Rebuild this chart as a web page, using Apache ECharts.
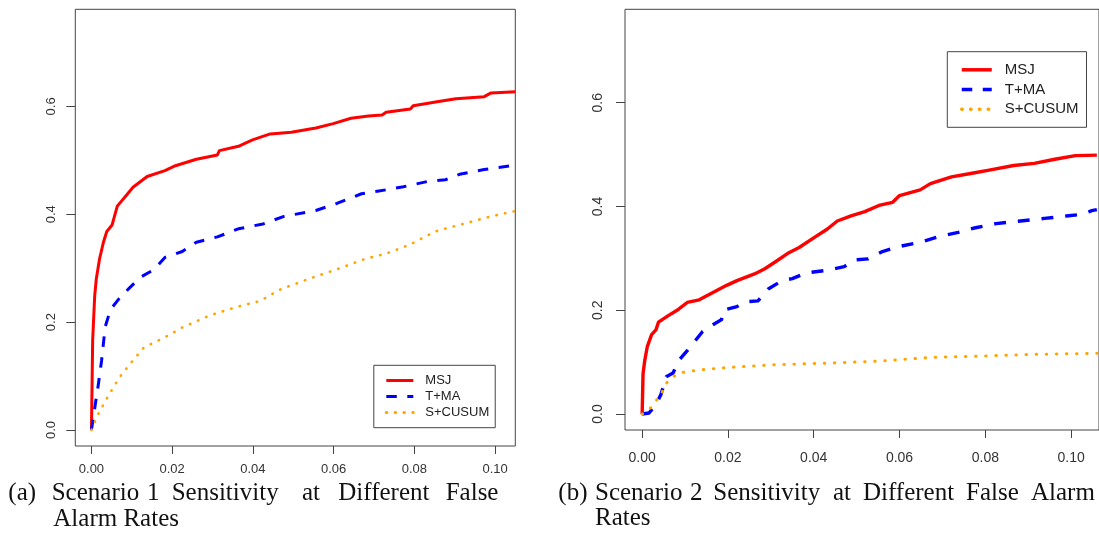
<!DOCTYPE html>
<html>
<head>
<meta charset="utf-8">
<script src="https://cdn.jsdelivr.net/npm/echarts@6/dist/echarts.min.js"></script>
<style>
html,body{margin:0;padding:0;background:#fff;}
#c{width:1099px;height:534px;}
</style>
</head>
<body>
<div id="c"></div>
<script>
// ---------- data ----------
const seriesNames = ['MSJ', 'T+MA', 'S+CUSUM'];
const xTicks = [0, 0.02, 0.04, 0.06, 0.08, 0.10];
const yTicks = [0, 0.2, 0.4, 0.6];

// Scenario 1 (panel a): [false alarm rate, sensitivity]
const msjA = [[0,0],[0.0003,0.166],[0.0008,0.248],[0.0012,0.28],[0.002,0.317],[0.003,0.349],[0.0038,0.368],[0.0051,0.38],[0.0064,0.415],[0.0082,0.431],[0.0103,0.45],[0.0138,0.47],[0.0182,0.481],[0.0208,0.49],[0.026,0.502],[0.0312,0.51],[0.0317,0.518],[0.0364,0.526],[0.0399,0.538],[0.0443,0.549],[0.0495,0.552],[0.0556,0.56],[0.0599,0.568],[0.0643,0.578],[0.0686,0.582],[0.072,0.584],[0.073,0.589],[0.079,0.595],[0.0797,0.601],[0.086,0.609],[0.0903,0.614],[0.0973,0.618],[0.099,0.625],[0.105,0.627]];
const tmaA = [[0,0],[0.0008,0.04],[0.0017,0.084],[0.0025,0.128],[0.0034,0.191],[0.0047,0.223],[0.0069,0.244],[0.0095,0.264],[0.0121,0.283],[0.0156,0.298],[0.0182,0.32],[0.0225,0.331],[0.026,0.348],[0.0312,0.358],[0.0364,0.373],[0.0425,0.382],[0.0477,0.396],[0.0556,0.407],[0.0608,0.42],[0.0669,0.438],[0.0712,0.443],[0.0773,0.451],[0.0834,0.461],[0.0877,0.464],[0.0912,0.474],[0.0973,0.483],[0.105,0.491]];
const cusumA = [[0,0],[0.0017,0.03],[0.0043,0.065],[0.0069,0.097],[0.0095,0.122],[0.013,0.153],[0.0182,0.172],[0.0225,0.19],[0.0295,0.213],[0.0364,0.229],[0.0417,0.239],[0.0469,0.261],[0.0538,0.28],[0.0608,0.298],[0.0677,0.317],[0.073,0.327],[0.079,0.344],[0.0851,0.368],[0.093,0.384],[0.099,0.396],[0.105,0.406]];

// Scenario 2 (panel b)
const msjB = [[0,0],[0.0002,0.077],[0.0006,0.103],[0.0012,0.13],[0.0022,0.153],[0.0032,0.162],[0.0038,0.177],[0.006,0.189],[0.0085,0.202],[0.0105,0.215],[0.0133,0.22],[0.0165,0.234],[0.0197,0.248],[0.0221,0.257],[0.0262,0.27],[0.0286,0.28],[0.031,0.293],[0.0342,0.311],[0.0366,0.321],[0.0399,0.339],[0.0431,0.356],[0.0455,0.372],[0.0487,0.382],[0.0519,0.39],[0.0552,0.402],[0.0584,0.408],[0.06,0.421],[0.0648,0.432],[0.0672,0.444],[0.0721,0.457],[0.0769,0.464],[0.0809,0.47],[0.0866,0.479],[0.0914,0.483],[0.0962,0.491],[0.101,0.498],[0.106,0.499]];
const tmaB = [[0,0],[0.0016,0.002],[0.0032,0.018],[0.0044,0.038],[0.0056,0.072],[0.0072,0.079],[0.0085,0.103],[0.0109,0.126],[0.0141,0.159],[0.0165,0.172],[0.0185,0.182],[0.0189,0.2],[0.0221,0.207],[0.0238,0.216],[0.027,0.218],[0.0294,0.241],[0.0326,0.257],[0.035,0.261],[0.0382,0.272],[0.0431,0.277],[0.0471,0.284],[0.0495,0.297],[0.0527,0.299],[0.056,0.313],[0.06,0.323],[0.0648,0.331],[0.0697,0.343],[0.0737,0.35],[0.0777,0.359],[0.0825,0.367],[0.0882,0.372],[0.0938,0.377],[0.0994,0.382],[0.1027,0.385],[0.1048,0.392],[0.106,0.394]];
const cusumB = [[0,0],[0.002,0.012],[0.0044,0.038],[0.006,0.064],[0.0085,0.079],[0.0133,0.085],[0.0205,0.09],[0.031,0.095],[0.0431,0.098],[0.0552,0.102],[0.0672,0.109],[0.0801,0.112],[0.0914,0.115],[0.106,0.117]];

// captions (words, justified like the original)
const captionA1 = ['(a)', 'Scenario', '1', 'Sensitivity', 'at', 'Different', 'False'];
const captionA2 = ['Alarm Rates'];
const captionB1 = ['(b)', 'Scenario', '2', 'Sensitivity', 'at', 'Different', 'False', 'Alarm'];
const captionB2 = ['Rates'];

// ---------- layout (kept apart from data) ----------
const captionA1X = [8.3, 51.7, 147, 171.7, 302, 338.3, 445.7];
const captionA2X = [53.3];
const captionB1X = [558.3, 595, 690, 713.3, 833, 863, 966, 1031];
const captionB2X = [595];

const chart = echarts.init(document.getElementById('c'), null, {renderer: 'canvas'});

function xAxisCfg(gi, min, max, fs, margin) {
  return {
    type: 'value', gridIndex: gi, min: min, max: max, position: 'bottom',
    axisLine: {show: false, onZero: false},
    splitLine: {show: false},
    axisTick: {show: true, inside: false, length: 8, customValues: xTicks, lineStyle: {color: '#444', width: 1}},
    axisLabel: {customValues: xTicks, margin: margin, fontSize: fs, color: '#333',
      fontFamily: 'Liberation Sans, Arial, sans-serif', formatter: v => v.toFixed(2)}
  };
}
function yAxisCfg(gi, min, max, fs, margin) {
  return {
    type: 'value', gridIndex: gi, min: min, max: max, position: 'left',
    axisLine: {show: false, onZero: false},
    splitLine: {show: false},
    axisTick: {show: true, inside: false, length: 9, customValues: yTicks, lineStyle: {color: '#444', width: 1}},
    axisLabel: {customValues: yTicks, margin: margin, fontSize: fs, color: '#333', rotate: 90,
      fontFamily: 'Liberation Sans, Arial, sans-serif', formatter: v => v.toFixed(1)}
  };
}
function lineSeries(name, data, gi, kind, w) {
  const colors = {solid: '#FF0000', dashed: '#0000FF', dotted: '#FFA500'};
  let ls = {width: w, color: colors[kind], cap: 'butt', join: 'round'};
  if (kind === 'dashed') { ls.type = [3.5 * w, 3.5 * w]; }
  if (kind === 'dotted') { ls.type = [0.5, 3.2 * w]; ls.cap = 'round'; }
  return {
    name: name, type: 'line', xAxisIndex: gi, yAxisIndex: gi, data: data,
    symbol: 'none', showSymbol: false, smooth: false, lineStyle: ls,
    itemStyle: {color: colors[kind]}, clip: true, silent: true
  };
}
function words(list, xs, baseY, fs) {
  return list.map((w, i) => ({
    type: 'text', left: xs[i], top: baseY - fs * 0.9,
    style: {text: w, font: fs + 'px "Liberation Serif", "Times New Roman", serif', fill: '#111'}
  }));
}

const capFs = 25;
const legendText = {color: '#222', fontFamily: 'Liberation Sans, Arial, sans-serif'};
const option = {
  animation: false,
  backgroundColor: '#fff',
  grid: [
    {left: 75.3, top: 9.3, width: 440, height: 436.7, show: true, borderColor: '#444', borderWidth: 1, backgroundColor: 'transparent'},
    {left: 625, top: 9.3, width: 485, height: 420.7, show: true, borderColor: '#444', borderWidth: 1, backgroundColor: 'transparent'}
  ],
  xAxis: [xAxisCfg(0, -0.004, 0.105, 13, 17), xAxisCfg(1, -0.004, 0.1065, 14, 21)],
  yAxis: [yAxisCfg(0, -0.0297, 0.78, 13, 17), yAxisCfg(1, -0.0308, 0.78, 14, 20)],
  legend: [
    {data: seriesNames, orient: 'vertical', left: 373.8, top: 365.3, itemWidth: 27, itemHeight: 14, itemGap: 3,
     padding: [8.7, 6, 8.7, 11], borderColor: '#444', borderWidth: 1, selectedMode: false,
     itemStyle: {opacity: 0, borderWidth: 0},
     lineStyle: {width: 3}, textStyle: Object.assign({fontSize: 13, padding: [0, 0, 0, 7]}, legendText)},
    {data: seriesNames, orient: 'vertical', left: 947.3, top: 51.7, itemWidth: 30, itemHeight: 14, itemGap: 4.7,
     padding: [10.6, 8, 10.6, 12.7], borderColor: '#444', borderWidth: 1, selectedMode: false,
     itemStyle: {opacity: 0, borderWidth: 0},
     lineStyle: {width: 3.5}, textStyle: Object.assign({fontSize: 15, padding: [0, 0, 0, 8]}, legendText)}
  ],
  series: [
    lineSeries(seriesNames[0], msjA, 0, 'solid', 3),
    lineSeries(seriesNames[1], tmaA, 0, 'dashed', 3),
    lineSeries(seriesNames[2], cusumA, 0, 'dotted', 2.6),
    lineSeries(seriesNames[0], msjB, 1, 'solid', 3.4),
    lineSeries(seriesNames[1], tmaB, 1, 'dashed', 3.4),
    lineSeries(seriesNames[2], cusumB, 1, 'dotted', 3)
  ],
  graphic: [].concat(
    words(captionA1, captionA1X, 503.3, capFs),
    words(captionA2, captionA2X, 529, capFs),
    words(captionB1, captionB1X, 503.3, capFs),
    words(captionB2, captionB2X, 528, capFs)
  )
};
chart.setOption(option);
</script>
</body>
</html>
